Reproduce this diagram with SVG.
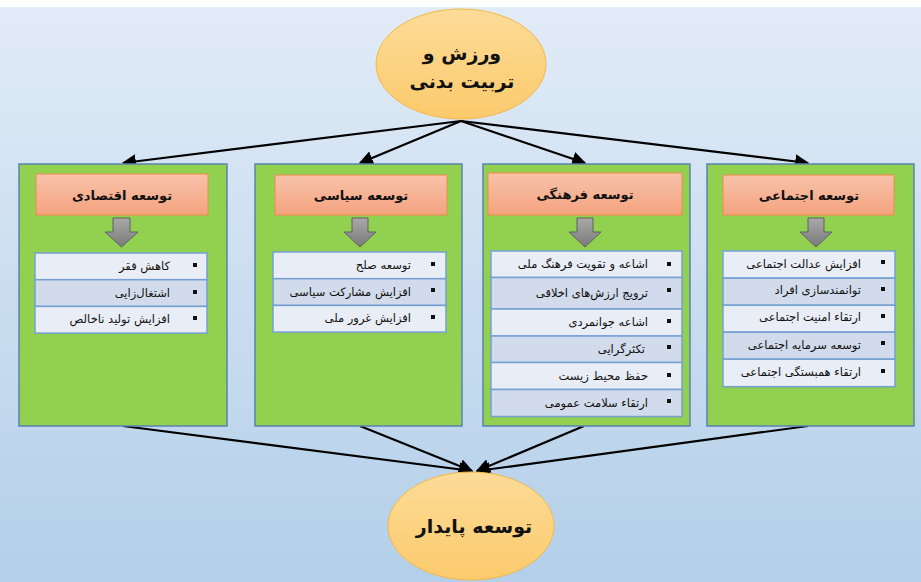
<svg xmlns="http://www.w3.org/2000/svg" width="921" height="582" viewBox="0 0 921 582">
<defs>
<linearGradient id="bg" x1="0" y1="0" x2="0" y2="1"><stop offset="0" stop-color="#e2ecf7"/><stop offset="1" stop-color="#b3cfe9"/></linearGradient>
<linearGradient id="ell" x1="0" y1="0" x2="0" y2="1"><stop offset="0" stop-color="#fddc98"/><stop offset="1" stop-color="#fbca6c"/></linearGradient>
<linearGradient id="hdr" x1="0" y1="0" x2="0" y2="1"><stop offset="0" stop-color="#f8c3aa"/><stop offset="1" stop-color="#f4a27f"/></linearGradient>
<linearGradient id="gar" x1="0" y1="0" x2="0" y2="1"><stop offset="0" stop-color="#a9a9a9"/><stop offset="1" stop-color="#7a7a7a"/></linearGradient>
<marker id="ah2" viewBox="0 0 10 10" refX="9" refY="5" markerWidth="6.5" markerHeight="6.5" orient="auto"><path d="M0,0 L10,5 L0,10 z" fill="#000"/></marker>
</defs>
<style>
.col{fill:#92d050;stroke:#5a82b0;stroke-width:1.5}
.hdr{fill:url(#hdr);stroke:#f08a4b;stroke-width:1}
.ht{font-family:"DejaVu Sans",sans-serif;font-weight:bold;font-size:13px;fill:#111;text-anchor:middle}
.ga{fill:url(#gar);stroke:#606060;stroke-width:1}
.r1{fill:#e9edf5;stroke:#74a0d3;stroke-width:1.5}
.r2{fill:#d1dbeb;stroke:#74a0d3;stroke-width:1.5}
.it{font-family:"DejaVu Sans",sans-serif;font-size:11.5px;fill:#111;text-anchor:end}
.bl{fill:#111}
.ell{fill:url(#ell);stroke:#f3b846;stroke-width:1}
.et{font-family:"DejaVu Sans",sans-serif;font-weight:bold;font-size:19px;fill:#111;text-anchor:middle}
.cn{stroke:#000;stroke-width:2.2;fill:none}
</style>
<rect x="0" y="0" width="921" height="582" fill="url(#bg)"/>
<rect x="0" y="0" width="921" height="7" fill="#ffffff"/>

<g id="connectors">
<line class="cn" x1="461" y1="121" x2="123" y2="163" marker-end="url(#ah2)"/>
<line class="cn" x1="461" y1="121" x2="360" y2="163" marker-end="url(#ah2)"/>
<line class="cn" x1="461" y1="121" x2="585" y2="163" marker-end="url(#ah2)"/>
<line class="cn" x1="461" y1="121" x2="808" y2="163" marker-end="url(#ah2)"/>
<line class="cn" x1="123" y1="426" x2="472" y2="471" marker-end="url(#ah2)"/>
<line class="cn" x1="360" y1="426" x2="472" y2="471" marker-end="url(#ah2)"/>
<line class="cn" x1="584" y1="426" x2="477" y2="471" marker-end="url(#ah2)"/>
<line class="cn" x1="808" y1="426" x2="477" y2="471" marker-end="url(#ah2)"/>
</g>

<g id="top">
<ellipse class="ell" cx="461" cy="64" rx="85" ry="55"/>
<text class="et" x="462" y="60">ورزش و</text>
<text class="et" x="462" y="88">تربیت بدنی</text>
</g>

<g id="bottom">
<ellipse class="ell" cx="471" cy="526" rx="83" ry="54"/>
<text class="et" x="474" y="533">توسعه پایدار</text>
</g>

<g id="economic">
<rect class="col" x="19" y="164" width="208" height="262"/>
<rect class="hdr" x="36" y="174" width="172" height="41"/>
<text class="ht" x="122" y="200">توسعه اقتصادی</text>
<path class="ga" d="M113,218 H130 V232 H138 L121.5,247 L105,232 H113 Z"/>
<rect class="r1" x="35" y="253" width="172" height="26.7"/>
<rect class="r2" x="35" y="279.7" width="172" height="26.7"/>
<rect class="r1" x="35" y="306.4" width="172" height="26.7"/>
<rect class="bl" x="193" y="263" width="4" height="4"/>
<rect class="bl" x="193" y="290" width="4" height="4"/>
<rect class="bl" x="193" y="316" width="4" height="4"/>
<text class="it" x="170" y="270">کاهش فقر</text>
<text class="it" x="170" y="297">اشتغال‌زایی</text>
<text class="it" x="170" y="323">افزایش تولید ناخالص</text>
</g>

<g id="political">
<rect class="col" x="255" y="164" width="207" height="262"/>
<rect class="hdr" x="275" y="175" width="172" height="40"/>
<text class="ht" x="361" y="200">توسعه سیاسی</text>
<path class="ga" d="M352,218 H368 V232 H376 L360,247 L344,232 H352 Z"/>
<rect class="r1" x="273" y="252" width="173" height="26.7"/>
<rect class="r2" x="273" y="278.7" width="173" height="26.7"/>
<rect class="r1" x="273" y="305.4" width="173" height="26.7"/>
<rect class="bl" x="431" y="262" width="4" height="4"/>
<rect class="bl" x="431" y="288" width="4" height="4"/>
<rect class="bl" x="431" y="315" width="4" height="4"/>
<text class="it" x="411" y="269">توسعه صلح</text>
<text class="it" x="411" y="296">افزایش مشارکت سیاسی</text>
<text class="it" x="411" y="322">افزایش غرور ملی</text>
</g>

<g id="cultural">
<rect class="col" x="483" y="164" width="207" height="262"/>
<rect class="hdr" x="488" y="173" width="194" height="42"/>
<text class="ht" x="585" y="199">توسعه فرهنگی</text>
<path class="ga" d="M577,218 H593 V232 H601 L585,247 L569,232 H577 Z"/>
<rect class="r1" x="491" y="251" width="191" height="26.5"/>
<rect class="r2" x="491" y="277.5" width="191" height="31.5"/>
<rect class="r1" x="491" y="309" width="191" height="27"/>
<rect class="r2" x="491" y="336" width="191" height="26.5"/>
<rect class="r1" x="491" y="362.5" width="191" height="27"/>
<rect class="r2" x="491" y="389.5" width="191" height="27"/>
<rect class="bl" x="667" y="262" width="4" height="4"/>
<rect class="bl" x="667" y="288" width="4" height="4"/>
<rect class="bl" x="667" y="319" width="4" height="4"/>
<rect class="bl" x="667" y="345" width="4" height="4"/>
<rect class="bl" x="667" y="373" width="4" height="4"/>
<rect class="bl" x="667" y="399" width="4" height="4"/>
<text class="it" x="648" y="268">اشاعه و تقویت فرهنگ ملی</text>
<text class="it" x="648" y="297">ترویج ارزش‌های اخلاقی</text>
<text class="it" x="648" y="326">اشاعه جوانمردی</text>
<text class="it" x="645" y="353">تکثرگرایی</text>
<text class="it" x="648" y="380">حفظ محیط زیست</text>
<text class="it" x="648" y="407">ارتقاء سلامت عمومی</text>
</g>

<g id="social">
<rect class="col" x="707" y="164" width="207" height="262"/>
<rect class="hdr" x="723" y="175" width="171" height="40"/>
<text class="ht" x="809" y="200">توسعه اجتماعی</text>
<path class="ga" d="M808,218 H824 V232 H832 L816,247 L800,232 H808 Z"/>
<rect class="r1" x="723" y="251" width="172" height="27.2"/>
<rect class="r2" x="723" y="278.2" width="172" height="27"/>
<rect class="r1" x="723" y="305.2" width="172" height="27"/>
<rect class="r2" x="723" y="332.2" width="172" height="27"/>
<rect class="r1" x="723" y="359.2" width="172" height="27.5"/>
<rect class="bl" x="881" y="260" width="4" height="4"/>
<rect class="bl" x="881" y="287" width="4" height="4"/>
<rect class="bl" x="881" y="314" width="4" height="4"/>
<rect class="bl" x="881" y="341" width="4" height="4"/>
<rect class="bl" x="881" y="369" width="4" height="4"/>
<text class="it" x="861" y="268">افزایش عدالت اجتماعی</text>
<text class="it" x="861" y="294">توانمندسازی افراد</text>
<text class="it" x="861" y="321">ارتقاء امنیت اجتماعی</text>
<text class="it" x="861" y="349">توسعه سرمایه اجتماعی</text>
<text class="it" x="861" y="376">ارتقاء همبستگی اجتماعی</text>
</g>
</svg>
